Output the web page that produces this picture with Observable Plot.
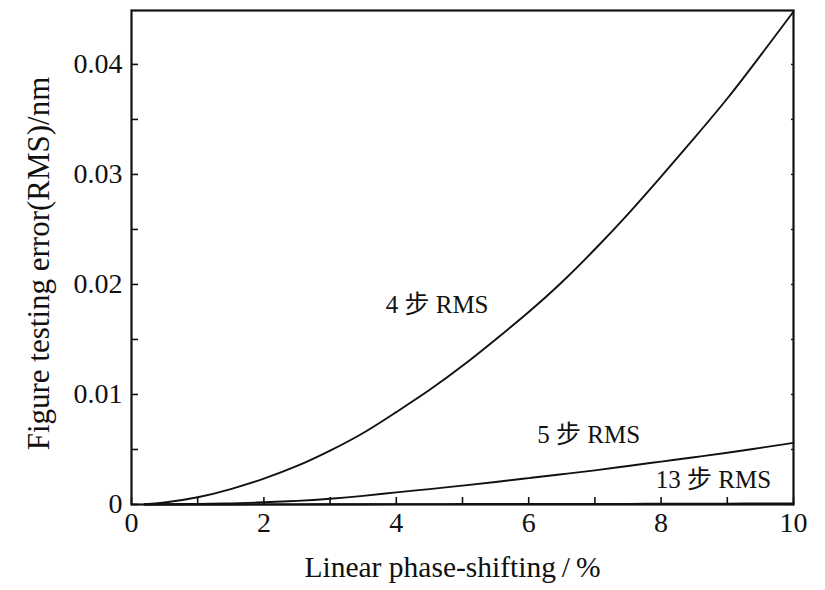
<!DOCTYPE html>
<html>
<head>
<meta charset="utf-8">
<script src="https://cdn.jsdelivr.net/npm/d3@7"></script>
<script src="https://cdn.jsdelivr.net/npm/@observablehq/plot@0.6"></script>
<style>
  body { margin: 0; background: #fff; }
</style>
</head>
<body>
<div id="chart"></div>
<script>
// Linear phase-shifting error (%) and the resulting figure testing error (RMS, nm)
const shift = [0.2, 0.5, 1, 1.5, 2, 2.5, 3, 3.5, 4, 4.5, 5, 5.5, 6, 6.5, 7, 7.5, 8, 8.5, 9, 9.5, 10];
const rms4  = [0.00003, 0.00018, 0.00066, 0.0014, 0.00235, 0.0035, 0.0049, 0.0065, 0.0084, 0.0104, 0.0126,
               0.0150, 0.0175, 0.0202, 0.0232, 0.0264, 0.0298, 0.0333, 0.0369, 0.0408, 0.0448];
const rms5  = [0, 0.00002, 0.00005, 0.0001, 0.0002, 0.00033, 0.00052, 0.00078, 0.0011, 0.0014, 0.00172,
               0.00205, 0.0024, 0.00275, 0.0031, 0.0035, 0.0039, 0.0043, 0.0047, 0.00515, 0.0056];
const rms13 = [0, 0, 0, 0, 0.00001, 0.00001, 0.00002, 0.00002, 0.00003, 0.00003, 0.00004,
               0.00004, 0.00005, 0.00005, 0.00006, 0.00006, 0.00007, 0.00008, 0.00008, 0.00009, 0.0001];

const seriesNames = ["4 步 RMS", "5 步 RMS", "13 步 RMS"];
// label anchors in data units (shift %, RMS nm)
const labelX = [3.84, 6.13, 7.92];
const labelY = [0.0181, 0.0063, 0.0022];

const xTicks = [0, 2, 4, 6, 8, 10];
const xMinor = [1, 3, 5, 7, 9];
const yTicks = [0, 0.01, 0.02, 0.03, 0.04];
const yMinor = [0.005, 0.015, 0.025, 0.035];

const xTitle = "Linear phase-shifting\u2009/\u2009%";
const yTitle = "Figure testing error(RMS)/nm";

const rows = [];
[rms4, rms5, rms13].forEach((vals, k) =>
  shift.forEach((s, i) => rows.push({series: seriesNames[k], x: s, y: vals[i]})));
const labels = seriesNames.map((t, k) => ({text: t, x: labelX[k], y: labelY[k]}));

const W = 825, H = 590;
const mL = 131, mR = 32, mT = 10, mB = 86;
const tick = 7;
const font = "'Liberation Serif', 'Times New Roman', 'Noto Sans CJK SC', serif";
const blank = () => "";

const chart = Plot.plot({
  width: W,
  height: H,
  marginLeft: mL,
  marginRight: mR,
  marginTop: mT,
  marginBottom: mB,
  style: {fontFamily: font, fontSize: "28px", color: "#111", background: "#fff"},
  x: {domain: [0, 10]},
  y: {domain: [0, 0.0449]},
  marks: [
    // inward ticks (major + minor) on the left and bottom, short ones on the right
    Plot.axisY({ticks: yTicks.concat(yMinor), tickSize: tick, dx: tick, tickFormat: blank, label: null, strokeWidth: 1.6}),
    Plot.axisY({anchor: "right", ticks: yTicks.concat(yMinor), tickSize: 3, dx: -3, tickFormat: blank, label: null, strokeWidth: 1.4}),
    Plot.axisX({ticks: xTicks.concat(xMinor), tickSize: tick, dy: -tick, tickFormat: blank, label: null, strokeWidth: 1.6}),
    // tick labels
    Plot.axisY({ticks: yTicks, tickSize: 0, tickPadding: 9, fontSize: 28,
      tickFormat: d => d === 0 ? "0" : d3.format(".2f")(d), label: null}),
    Plot.axisX({ticks: xTicks, tickSize: 0, tickPadding: 8, fontSize: 28, label: null}),
    // axis titles
    Plot.text([yTitle], {frameAnchor: "left", textAnchor: "middle", rotate: -90, dx: -92, dy: 6, fontSize: 31, fill: "#111"}),
    Plot.text([xTitle], {frameAnchor: "bottom", dy: 72, dx: -10, fontSize: 29.5, fill: "#111"}),
    // curves and their labels
    Plot.line(rows, {x: "x", y: "y", z: "series", stroke: "#111", strokeWidth: 1.9, curve: "natural"}),
    Plot.text(labels, {x: "x", y: "y", text: "text", textAnchor: "start", fontSize: 25, fill: "#111"}),
    Plot.frame({stroke: "#111", strokeWidth: 2.2})
  ]
});

document.getElementById("chart").append(chart);
</script>
</body>
</html>
